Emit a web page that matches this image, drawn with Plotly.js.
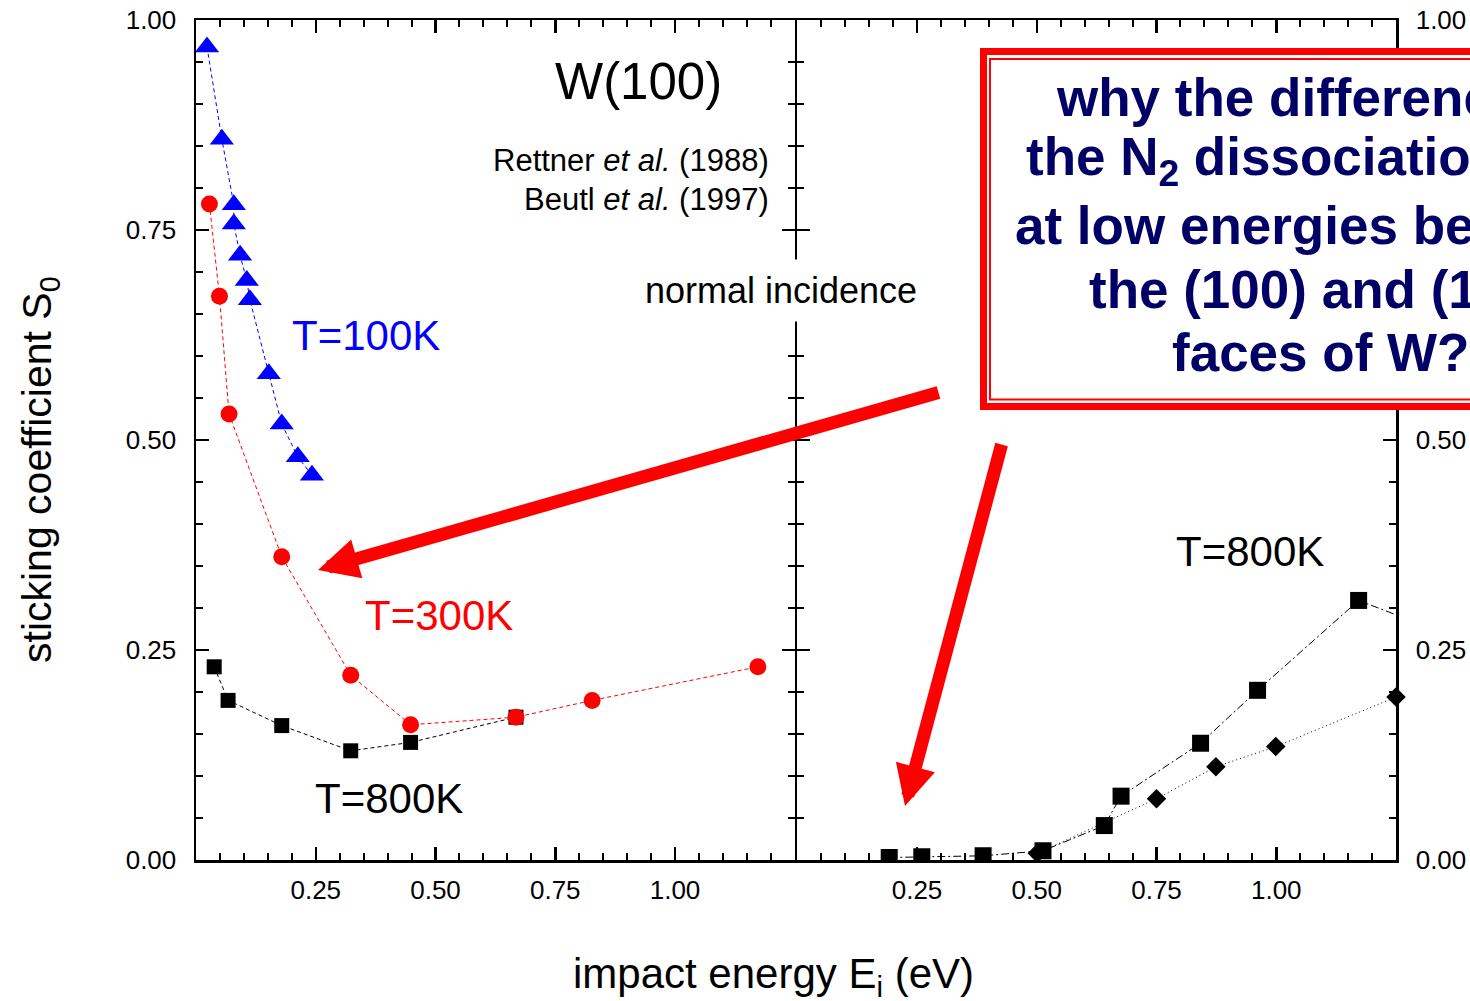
<!DOCTYPE html>
<html>
<head>
<meta charset="utf-8">
<script src="https://cdn.plot.ly/plotly-3.0.1.min.js"></script>
<style>
  html, body { margin: 0; padding: 0; background: #ffffff; }
  #chart { width: 1470px; height: 1001px; }
</style>
</head>
<body>
<div id="chart"></div>
<script>
// ---- W(100): sticking coefficient vs impact energy (left panel) ----
const w100_T100_energy = [0.023, 0.054, 0.079, 0.079, 0.092, 0.106, 0.1125, 0.152, 0.179, 0.2125, 0.242];
const w100_T100_s0     = [0.968, 0.858, 0.780, 0.757, 0.720, 0.690, 0.667, 0.579, 0.519, 0.480, 0.458];

const w100_T300_energy = [0.028, 0.049, 0.069, 0.179, 0.323, 0.448, 0.668, 0.827, 1.173];
const w100_T300_s0     = [0.781, 0.671, 0.531, 0.361, 0.220, 0.161, 0.170, 0.190, 0.230];

const w100_T800_energy = [0.038, 0.067, 0.179, 0.323, 0.448, 0.668];
const w100_T800_s0     = [0.230, 0.190, 0.160, 0.130, 0.140, 0.170];

// ---- second face, T = 800 K (right panel) ----
const face2_sq_energy = [0.192, 0.260, 0.388, 0.513, 0.641, 0.676, 0.842, 0.961, 1.172, 1.35];
const face2_sq_s0     = [0.003, 0.004, 0.005, 0.011, 0.041, 0.076, 0.139, 0.202, 0.309, 0.270];

const face2_dm_energy = [0.501, 0.750, 0.874, 0.999, 1.250];
const face2_dm_s0     = [0.008, 0.073, 0.111, 0.135, 0.194];

// ---- axis ticks ----
const xTickVals   = [0.25, 0.50, 0.75, 1.00];
const xTickText   = ['0.25', '0.50', '0.75', '1.00'];
const yTickVals   = [0, 0.25, 0.50, 0.75, 1.00];
const yTickText   = ['0.00', '0.25', '0.50', '0.75', '1.00'];
const y2TickText  = ['0.00', '0.25', '0.50', '', '1.00'];   // 0.75 sits under the question box

const questionLines = [
  'why the difference in',
  'the N<sub>2</sub> dissociation rate',
  'at low energies between',
  'the (100) and (110)',
  'faces of W?'
];

const FONT = 'Arial, "Liberation Sans", sans-serif';
const W = 1470, H = 1001;
const M = { l: 196, r: 74, t: 20, b: 141 };
const PW = W - M.l - M.r, PH = H - M.t - M.b;
// pixel -> paper fraction helpers for page-level decorations
const px = v => (v - M.l) / PW;
const py = v => 1 - (v - M.t) / PH;
const AX_LW = 2.5;
// the two panels share one divider line: pull the domains apart by half a line width
const splitL = px(796 - AX_LW / 2);
const splitR = px(796 + AX_LW / 2);

const traces = [
  {
    x: w100_T800_energy, y: w100_T800_s0, xaxis: 'x', yaxis: 'y',
    mode: 'lines+markers', type: 'scatter',
    line: { color: '#000000', width: 1, dash: '4px,3px' },
    marker: { symbol: 'square', size: 15, color: '#000000' }
  },
  {
    x: w100_T300_energy, y: w100_T300_s0, xaxis: 'x', yaxis: 'y',
    mode: 'lines+markers', type: 'scatter',
    line: { color: '#ff0000', width: 1, dash: '4px,3px' },
    marker: { symbol: 'circle', size: 17, color: '#ff0000' }
  },
  {
    x: w100_T100_energy, y: w100_T100_s0, xaxis: 'x', yaxis: 'y',
    mode: 'lines+markers', type: 'scatter',
    line: { color: '#0000ff', width: 1, dash: '4px,3px' },
    marker: { symbol: 'triangle-up', size: 21, color: '#0000ff' }
  },
  {
    x: face2_dm_energy, y: face2_dm_s0, xaxis: 'x2', yaxis: 'y2',
    mode: 'lines+markers', type: 'scatter', cliponaxis: false,
    line: { color: '#000000', width: 1, dash: '1px,3px' },
    marker: { symbol: 'diamond', size: 15, color: '#000000' }
  },
  {
    x: face2_sq_energy, y: face2_sq_s0, xaxis: 'x2', yaxis: 'y2',
    mode: 'lines+markers', type: 'scatter',
    line: { color: '#000000', width: 1, dash: '8px,3px,2px,3px' },
    marker: { symbol: 'square', size: 17, color: '#000000' }
  }
];

function xAxis(domain, anchor) {
  return {
    domain: domain, anchor: anchor, range: [0, 1.25],
    showline: true, linecolor: '#000', linewidth: AX_LW, mirror: 'ticks',
    ticks: 'inside', ticklen: 13, tickwidth: 2.5, tickcolor: '#000',
    tickmode: 'array', tickvals: xTickVals, ticktext: xTickText,
    tickfont: { family: FONT, size: 26, color: '#000' }, ticklabelstandoff: 5,
    minor: { tickmode: 'linear', tick0: 0, dtick: 0.05, ticks: 'inside', ticklen: 7, tickwidth: 2, tickcolor: '#000' },
    showgrid: false, zeroline: false, fixedrange: true
  };
}
function yAxis(anchor, side, labels) {
  return {
    domain: [0, 1], anchor: anchor, side: side, range: [0, 1],
    showline: true, linecolor: '#000', linewidth: AX_LW, mirror: 'ticks',
    ticks: 'inside', ticklen: 13, tickwidth: 2.5, tickcolor: '#000',
    tickmode: 'array', tickvals: yTickVals, ticktext: labels,
    tickfont: { family: FONT, size: 26, color: '#000' }, ticklabelstandoff: 12,
    minor: { tickmode: 'linear', tick0: 0, dtick: 0.05, ticks: 'inside', ticklen: 7, tickwidth: 2, tickcolor: '#000' },
    showgrid: false, zeroline: false, fixedrange: true
  };
}

const annotations = [
  { xref: 'paper', yref: 'paper', x: px(773), y: py(976), text: 'impact energy E<sub>i</sub> (eV)',
    showarrow: false, xanchor: 'center', yanchor: 'middle', font: { family: FONT, size: 42, color: '#000' } },
  { xref: 'paper', yref: 'paper', x: px(40), y: py(470), text: 'sticking coefficient S<sub>0</sub>', textangle: -90,
    showarrow: false, xanchor: 'center', yanchor: 'middle', font: { family: FONT, size: 41, color: '#000' } },

  { xref: 'paper', yref: 'paper', x: px(638), y: py(82), text: 'W(100)',
    showarrow: false, xanchor: 'center', yanchor: 'middle', font: { family: FONT, size: 51, color: '#000' } },
  { xref: 'paper', yref: 'paper', x: px(771), y: py(161), text: 'Rettner <i>et al.</i> (1988)',
    showarrow: false, xanchor: 'right', yanchor: 'middle', font: { family: FONT, size: 31, color: '#000' } },
  { xref: 'paper', yref: 'paper', x: px(771), y: py(199), text: 'Beutl <i>et al.</i> (1997)',
    showarrow: false, xanchor: 'right', yanchor: 'middle', font: { family: FONT, size: 31, color: '#000' } },
  { xref: 'paper', yref: 'paper', x: px(781), y: py(290), text: 'normal incidence',
    showarrow: false, xanchor: 'center', yanchor: 'middle', bgcolor: '#ffffff', borderpad: 10,
    font: { family: FONT, size: 36, color: '#000' } },

  { xref: 'paper', yref: 'paper', x: px(290), y: py(335), text: 'T=100K',
    showarrow: false, xanchor: 'left', yanchor: 'middle', font: { family: FONT, size: 42, color: '#0000ff' } },
  { xref: 'paper', yref: 'paper', x: px(363), y: py(615), text: 'T=300K',
    showarrow: false, xanchor: 'left', yanchor: 'middle', font: { family: FONT, size: 42, color: '#ff0000' } },
  { xref: 'paper', yref: 'paper', x: px(313), y: py(798), text: 'T=800K',
    showarrow: false, xanchor: 'left', yanchor: 'middle', font: { family: FONT, size: 42, color: '#000' } },
  { xref: 'paper', yref: 'paper', x: px(1174), y: py(551), text: 'T=800K',
    showarrow: false, xanchor: 'left', yanchor: 'middle', font: { family: FONT, size: 42, color: '#000' } },

  // red arrows pointing at the low-energy regions of both panels
  { xref: 'paper', yref: 'paper', x: px(318), y: py(570), ax: 622, ay: -178, text: '',
    showarrow: true, arrowhead: 2, arrowwidth: 13, arrowsize: 0.62, arrowcolor: '#ff0000', standoff: 0 },
  { xref: 'paper', yref: 'paper', x: px(905), y: py(806), ax: 97, ay: -363, text: '',
    showarrow: true, arrowhead: 2, arrowwidth: 13, arrowsize: 0.62, arrowcolor: '#ff0000', standoff: 0 }
];

// question box text, one line each, centred on a common axis
const lineCentres = [97, 161, 225, 289, 353];
questionLines.forEach((t, i) => {
  annotations.push({
    xref: 'paper', yref: 'paper', x: px(1320), y: py(lineCentres[i]), text: '<b>' + t + '</b>',
    showarrow: false, xanchor: 'center', yanchor: 'middle',
    font: { family: FONT, size: 53, color: '#000066' }
  });
});

const shapes = [
  { type: 'rect', xref: 'paper', yref: 'paper', layer: 'above',
    x0: px(983.5), x1: px(1700), y0: py(51.5), y1: py(406.5),
    line: { color: '#ff0000', width: 7 }, fillcolor: '#ffffff' },
  { type: 'rect', xref: 'paper', yref: 'paper', layer: 'above',
    x0: px(990), x1: px(1690), y0: py(59), y1: py(399.5),
    line: { color: '#ff0000', width: 2 }, fillcolor: 'rgba(0,0,0,0)' }
];

const layout = {
  width: W, height: H,
  margin: M,
  paper_bgcolor: '#ffffff', plot_bgcolor: '#ffffff',
  showlegend: false,
  font: { family: FONT, color: '#000' },
  xaxis: xAxis([0, splitL], 'y'),
  xaxis2: xAxis([splitR, 1], 'y2'),
  yaxis: yAxis('x', 'left', yTickText),
  yaxis2: yAxis('x2', 'right', y2TickText),
  annotations: annotations,
  shapes: shapes
};

Plotly.newPlot('chart', traces, layout, { displayModeBar: false, staticPlot: true });
</script>
</body>
</html>
